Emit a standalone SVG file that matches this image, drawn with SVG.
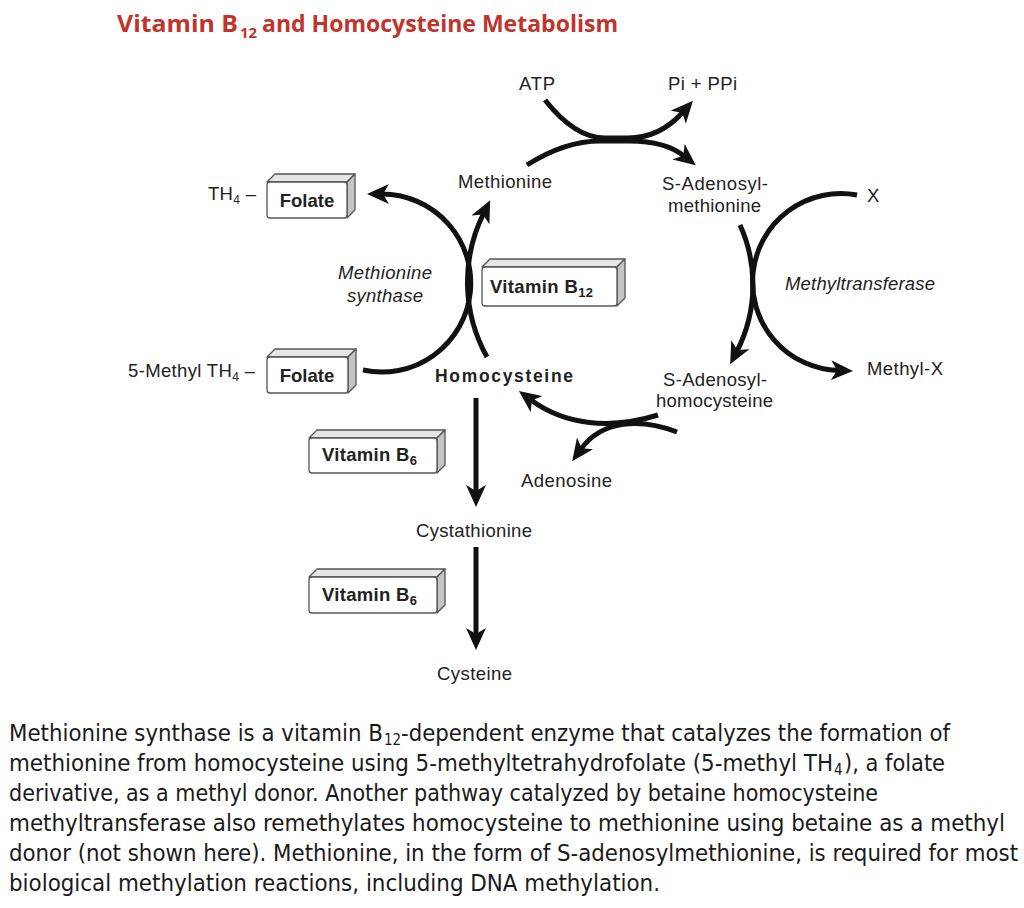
<svg xmlns="http://www.w3.org/2000/svg" width="1024" height="908" viewBox="0 0 1024 908">
<defs>
<style>
.lbl{font-family:"Liberation Sans",Arial,sans-serif;font-size:18.5px;fill:#222;}
.b{font-weight:bold;}
.i{font-style:italic;}
.box-front{fill:#fff;stroke:#555;stroke-width:1.3;}
.box-top{fill:#e6e6e6;stroke:#555;stroke-width:1.3;stroke-linejoin:round;}
.box-side{fill:#c4c4c4;stroke:#555;stroke-width:1.3;stroke-linejoin:round;}
.arr{fill:none;stroke:#111;stroke-width:5;marker-end:url(#ah);}
.cap{font-family:"Liberation Sans Narrow","DejaVu Sans Condensed","Open Sans",sans-serif;font-size:23px;fill:#1a1a1a;}
.capsub{font-family:"Liberation Sans Narrow","DejaVu Sans Condensed","Open Sans",sans-serif;font-size:15px;fill:#1a1a1a;}
.title{font-family:"Open Sans","Liberation Sans",sans-serif;font-size:24px;font-weight:bold;fill:#c0342c;}
.tsub{font-family:"Open Sans","Liberation Sans",sans-serif;font-size:15px;font-weight:bold;fill:#c0342c;}
</style>
<marker id="ah" viewBox="0 0 22 20" refX="7" refY="10" markerWidth="22" markerHeight="20" markerUnits="userSpaceOnUse" orient="auto">
<path d="M22,10 L0,0 L6,10 L0,20 Z" fill="#111"/>
</marker>
</defs>
<rect width="1024" height="908" fill="#fff"/>

<g id="title">
<text class="title" x="117" y="32" textLength="121" lengthAdjust="spacingAndGlyphs">Vitamin B</text>
<text class="tsub" x="240" y="38">12</text>
<text class="title" x="262" y="32" textLength="356" lengthAdjust="spacingAndGlyphs">and Homocysteine Metabolism</text>
</g>

<g id="connectors">
<!-- ATP + Methionine -> SAM + Pi/PPi -->
<path class="arr" d="M545,100 Q575,138 605,138 L628,138 Q660,138 683,112"/>
<path class="arr" d="M527,165 Q565,141 600,141 L630,141 Q665,141 684,156"/>
<!-- Methionine synthase -->
<path class="arr" d="M363,370 A89,89 0 1 0 382,194"/>
<path class="arr" d="M487,357 A154,154 0 0 1 483.5,213.6"/>
<!-- Methyltransferase -->
<path class="arr" d="M740,225 A145,145 0 0 1 737,351"/>
<path class="arr" d="M857,195 A88.5,88.5 0 1 0 838,370.5"/>
<!-- SAH -> Homocysteine + Adenosine -->
<path class="arr" d="M658,415 C610,430 565,425 531,400"/>
<path class="arr" d="M677,432 C640,418 602,420 581,449"/>
<!-- transsulfuration -->
<path class="arr" d="M476,398 L476,492"/>
<path class="arr" d="M476,547 L476,635"/>
</g>

<g id="atp"><text class="lbl" x="519" y="90" textLength="36">ATP</text></g>
<g id="pi-ppi"><text class="lbl" x="668" y="90" textLength="69">Pi + PPi</text></g>
<g id="methionine"><text class="lbl" x="458" y="188" textLength="94">Methionine</text></g>
<g id="sam">
<text class="lbl" x="662" y="190" textLength="106">S-Adenosyl-</text>
<text class="lbl" x="668" y="212" textLength="93">methionine</text>
</g>
<g id="x"><text class="lbl" x="867" y="202">X</text></g>
<g id="methyl-x"><text class="lbl" x="867" y="375" textLength="76">Methyl-X</text></g>
<g id="methyltransferase"><text class="lbl i" x="785" y="290" textLength="150">Methyltransferase</text></g>
<g id="sah">
<text class="lbl" x="663" y="386" textLength="104">S-Adenosyl-</text>
<text class="lbl" x="656" y="407" textLength="117">homocysteine</text>
</g>
<g id="homocysteine"><text class="lbl b" x="435" y="382" style="font-size:17.5px" textLength="138">Homocysteine</text></g>
<g id="adenosine"><text class="lbl" x="521" y="487" textLength="91">Adenosine</text></g>
<g id="cystathionine"><text class="lbl" x="416" y="537" textLength="116">Cystathionine</text></g>
<g id="cysteine"><text class="lbl" x="437" y="680" textLength="75">Cysteine</text></g>
<g id="methionine-synthase">
<text class="lbl i" x="338" y="279" textLength="94">Methionine</text>
<text class="lbl i" x="347" y="302" textLength="76">synthase</text>
</g>

<g id="th4-folate">
<text class="lbl" x="208" y="200" textLength="48">TH<tspan dy="4" font-size="12">4</tspan><tspan dy="-4"> –</tspan></text>
<path class="box-top" d="M267,182 L275,174 L355,174 L347,182 Z"/>
<path class="box-side" d="M347,182 L355,174 L355,210 L347,218 Z"/>
<rect class="box-front" x="267" y="182" width="80" height="36" rx="3"/>
<text class="lbl b" x="307" y="207" text-anchor="middle">Folate</text>
</g>

<g id="methyl-th4-folate">
<text class="lbl" x="128" y="377" textLength="127">5-Methyl TH<tspan dy="4" font-size="12">4</tspan><tspan dy="-4"> –</tspan></text>
<path class="box-top" d="M267,357 L275,349 L356,349 L348,357 Z"/>
<path class="box-side" d="M348,357 L356,349 L356,385 L348,393 Z"/>
<rect class="box-front" x="267" y="357" width="81" height="36" rx="3"/>
<text class="lbl b" x="307" y="382" text-anchor="middle">Folate</text>
</g>

<g id="vitamin-b12">
<path class="box-top" d="M482,267 L490,259 L625,259 L617,267 Z"/>
<path class="box-side" d="M617,267 L625,259 L625,298 L617,306 Z"/>
<rect class="box-front" x="482" y="267" width="135" height="39" rx="3"/>
<text class="lbl b" x="490" y="293" textLength="103">Vitamin B<tspan dy="4" font-size="13">12</tspan></text>
</g>

<g id="vitamin-b6-1">
<path class="box-top" d="M309,438 L317,430 L445,430 L437,438 Z"/>
<path class="box-side" d="M437,438 L445,430 L445,465 L437,473 Z"/>
<rect class="box-front" x="309" y="438" width="128" height="35" rx="3"/>
<text class="lbl b" x="322" y="461" textLength="95">Vitamin B<tspan dy="4" font-size="13">6</tspan></text>
</g>

<g id="vitamin-b6-2">
<path class="box-top" d="M309,577 L317,569 L445,569 L437,577 Z"/>
<path class="box-side" d="M437,577 L445,569 L445,605 L437,613 Z"/>
<rect class="box-front" x="309" y="577" width="128" height="36" rx="3"/>
<text class="lbl b" x="322" y="601" textLength="95">Vitamin B<tspan dy="4" font-size="13">6</tspan></text>
</g>

<g id="caption">
<text class="cap" x="9" y="741" textLength="374" lengthAdjust="spacingAndGlyphs">Methionine synthase is a vitamin B</text>
<text class="capsub" x="384" y="745">12</text>
<text class="cap" x="401" y="741" textLength="549" lengthAdjust="spacingAndGlyphs">-dependent enzyme that catalyzes the formation of</text>
<text class="cap" x="9" y="771" textLength="824" lengthAdjust="spacingAndGlyphs">methionine from homocysteine using 5-methyltetrahydrofolate (5-methyl TH</text>
<text class="capsub" x="834" y="775">4</text>
<text class="cap" x="844" y="771" textLength="101" lengthAdjust="spacingAndGlyphs">), a folate</text>
<text class="cap" x="9" y="801" textLength="869" lengthAdjust="spacingAndGlyphs">derivative, as a methyl donor. Another pathway catalyzed by betaine homocysteine</text>
<text class="cap" x="9" y="831" textLength="996" lengthAdjust="spacingAndGlyphs">methyltransferase also remethylates homocysteine to methionine using betaine as a methyl</text>
<text class="cap" x="9" y="861" textLength="1009" lengthAdjust="spacingAndGlyphs">donor (not shown here). Methionine, in the form of S-adenosylmethionine, is required for most</text>
<text class="cap" x="9" y="891" textLength="651" lengthAdjust="spacingAndGlyphs">biological methylation reactions, including DNA methylation.</text>
</g>
</svg>
